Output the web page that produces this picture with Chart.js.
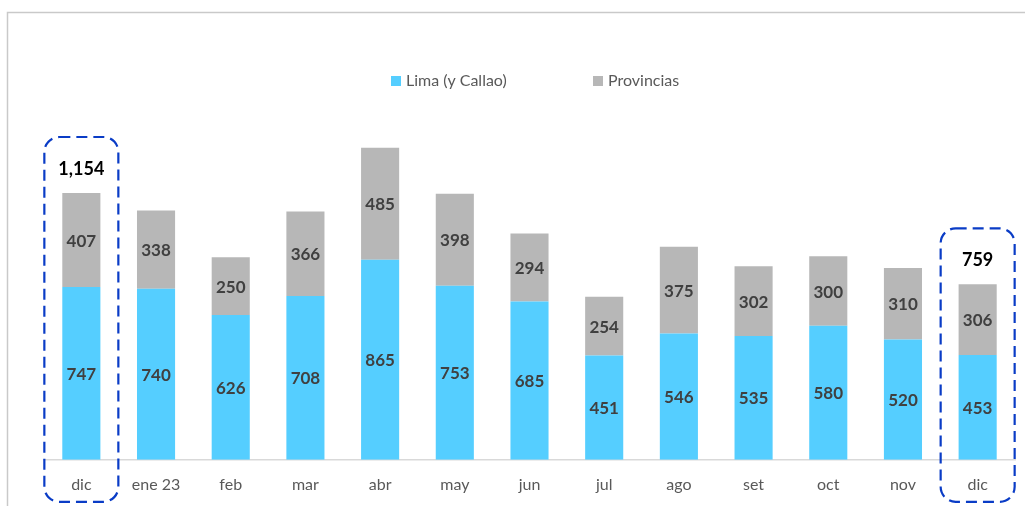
<!DOCTYPE html>
<html>
<head>
<meta charset="utf-8">
<script src="https://cdn.jsdelivr.net/npm/chart.js@4"></script>
<style>
  html, body { margin: 0; padding: 0; background: #fff; }
  #wrap { width: 1025px; height: 506px; position: relative; }
</style>
</head>
<body>
<div id="wrap"><canvas id="chart" width="1025" height="506"></canvas></div>
<script>
// datos
var meses = ["dic", "ene 23", "feb", "mar", "abr", "may", "jun", "jul", "ago", "set", "oct", "nov", "dic"];
var lima = [747, 740, 626, 708, 865, 753, 685, 451, 546, 535, 580, 520, 453];
var provincias = [407, 338, 250, 366, 485, 398, 294, 254, 375, 302, 300, 310, 306];
var resaltados = [0, 12]; // barras con total y recuadro

var colorLima = "#55CEFF";
var colorProv = "#B7B7B7";
var fuente = "Lato, 'Open Sans', sans-serif";

// marco gris, etiquetas, totales y recuadros punteados
var extras = {
  id: "extras",
  beforeDraw: function (chart) {
    var ctx = chart.ctx;
    ctx.save();
    ctx.strokeStyle = "#C9C9C9";
    ctx.lineWidth = 1.5;
    ctx.strokeRect(7.5, 12.5, 1200, 700);
    ctx.restore();
  },
  afterDatasetsDraw: function (chart) {
    var ctx = chart.ctx;
    var x = chart.scales.x, y = chart.scales.y;
    ctx.save();
    ctx.textAlign = "center";
    ctx.textBaseline = "middle";
    ctx.font = "bold 17px " + fuente;
    ctx.fillStyle = "#404040";
    chart.data.datasets.forEach(function (ds, i) {
      chart.getDatasetMeta(i).data.forEach(function (bar, j) {
        var mid = (bar.y + bar.base) / 2;
        ctx.fillText(ds.data[j], bar.x, mid + 1);
      });
    });

    // totales
    ctx.fillStyle = "#000";
    ctx.font = "bold 18px " + fuente;
    resaltados.forEach(function (j) {
      var total = lima[j] + provincias[j];
      var cx = x.getPixelForValue(j);
      var top = y.getPixelForValue(total);
      ctx.fillText(total.toLocaleString("en-US"), cx, top - 24);
    });

    // recuadros punteados
    ctx.strokeStyle = "#0A3CC6";
    ctx.lineWidth = 2.2;
    ctx.setLineDash([11, 6]);
    resaltados.forEach(function (j) {
      var total = lima[j] + provincias[j];
      var cx = x.getPixelForValue(j);
      var top = y.getPixelForValue(total) - 56;
      var bottom = y.getPixelForValue(0) + 42;
      ctx.beginPath();
      ctx.roundRect(cx - 37, top, 74, bottom - top, 15);
      ctx.stroke();
    });
    ctx.setLineDash([]);

    // leyenda
    ctx.font = "16px " + fuente;
    ctx.textAlign = "left";
    var items = [
      { x: 391, text: "Lima (y Callao)", color: colorLima },
      { x: 593, text: "Provincias", color: colorProv }
    ];
    items.forEach(function (it) {
      ctx.fillStyle = it.color;
      ctx.fillRect(it.x, 76, 10, 10);
      ctx.fillStyle = "#595959";
      ctx.fillText(it.text, it.x + 15, 81);
    });
    ctx.restore();
  }
};

var ctx = document.getElementById("chart").getContext("2d");
var chart = new Chart(ctx, {
  type: "bar",
  data: {
    labels: meses,
    datasets: [
      {
        label: "Lima (y Callao)",
        data: lima,
        backgroundColor: colorLima,
        barPercentage: 0.51,
        categoryPercentage: 1.0
      },
      {
        label: "Provincias",
        data: provincias,
        backgroundColor: colorProv,
        barPercentage: 0.51,
        categoryPercentage: 1.0
      }
    ]
  },
  options: {
    responsive: false,
    animation: false,
    layout: { padding: { left: 44, right: 10, top: 113, bottom: -3 } },
    plugins: {
      legend: { display: false },
      tooltip: { enabled: false }
    },
    scales: {
      x: {
        stacked: true,
        grid: { display: false, drawTicks: false },
        border: { display: true, color: "#D9D9D9", width: 1.5 },
        ticks: { color: "#595959", font: { family: fuente, size: 16 }, padding: 15 }
      },
      y: {
        stacked: true,
        display: false,
        min: 0,
        max: 1500
      }
    }
  },
  plugins: [extras]
});
</script>
</body>
</html>
